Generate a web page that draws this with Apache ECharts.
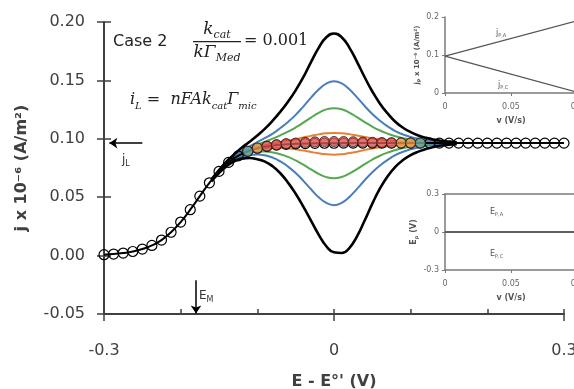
<!DOCTYPE html>
<html>
<head>
<meta charset="utf-8">
<script src="https://cdn.jsdelivr.net/npm/echarts@6/dist/echarts.min.js"></script>
<style>
  html, body { margin: 0; padding: 0; background: #fff; }
  #chart { width: 574px; height: 389px; }
</style>
</head>
<body>
<div id="chart"></div>
<script>
// sigmoid (steady state) curve, open circles
const sigE = [-0.3, -0.2875, -0.275, -0.2625, -0.25, -0.2375, -0.225, -0.2125, -0.2, -0.1875, -0.175, -0.1625, -0.15, -0.1375, -0.125, -0.1125, -0.1, -0.0875, -0.075, -0.0625, -0.05, -0.0375, -0.025, -0.0125, 0, 0.0125, 0.025, 0.0375, 0.05, 0.0625, 0.075, 0.0875, 0.1, 0.1125, 0.125, 0.1375, 0.15, 0.1625, 0.175, 0.1875, 0.2, 0.2125, 0.225, 0.2375, 0.25, 0.2625, 0.275, 0.2875, 0.3];
const sigJ = [0.0008, 0.0013, 0.0022, 0.0035, 0.0056, 0.0087, 0.0133, 0.0200, 0.0287, 0.0393, 0.0509, 0.0623, 0.0721, 0.0798, 0.0854, 0.0893, 0.0919, 0.0935, 0.0946, 0.0953, 0.0957, 0.0959, 0.0961, 0.0962, 0.0962, 0.0963, 0.0963, 0.0963, 0.0963, 0.0963, 0.0963, 0.0963, 0.0963, 0.0963, 0.0963, 0.0963, 0.0963, 0.0963, 0.0963, 0.0963, 0.0963, 0.0963, 0.0963, 0.0963, 0.0963, 0.0963, 0.0963, 0.0963, 0.0963];

// CV loops (forward = up, backward = down)
const loopE = [-0.16, -0.15, -0.14, -0.13, -0.12, -0.11, -0.1, -0.09, -0.08, -0.07, -0.06, -0.05, -0.04, -0.03, -0.02, -0.01, 0, 0.01, 0.02, 0.03, 0.04, 0.05, 0.06, 0.07, 0.08, 0.09, 0.1, 0.11, 0.12, 0.13, 0.14, 0.15, 0.16];
const blackUp = [0.0652, 0.0733, 0.0806, 0.0868, 0.0925, 0.0975, 0.1028, 0.1087, 0.1155, 0.1232, 0.1318, 0.1415, 0.1527, 0.1656, 0.1779, 0.1869, 0.1902, 0.1870, 0.1781, 0.1659, 0.1527, 0.1405, 0.1301, 0.1217, 0.1146, 0.1095, 0.1057, 0.1029, 0.1008, 0.0993, 0.0983, 0.0976, 0.0971];
const blackDown = [0.0635, 0.0707, 0.0766, 0.0808, 0.0830, 0.0835, 0.0825, 0.0805, 0.0765, 0.0705, 0.0625, 0.0530, 0.0420, 0.0300, 0.0180, 0.0080, 0.0028, 0.0022, 0.0065, 0.0165, 0.0300, 0.0445, 0.0575, 0.0680, 0.0760, 0.0818, 0.0860, 0.0890, 0.0912, 0.0930, 0.0942, 0.0950, 0.0954];
const blueUp = [0.0649, 0.0727, 0.0795, 0.0851, 0.0896, 0.0936, 0.0972, 0.1007, 0.1045, 0.1092, 0.1144, 0.1205, 0.1276, 0.1352, 0.1422, 0.1473, 0.1492, 0.1474, 0.1424, 0.1355, 0.1281, 0.1212, 0.1154, 0.1106, 0.1066, 0.1037, 0.1016, 0.1000, 0.0988, 0.0980, 0.0974, 0.0970, 0.0968];
const blueDown = [0.0639, 0.0713, 0.0773, 0.0817, 0.0846, 0.0862, 0.0866, 0.0859, 0.0839, 0.0806, 0.0762, 0.0707, 0.0640, 0.0568, 0.0500, 0.0451, 0.0432, 0.0452, 0.0502, 0.0571, 0.0645, 0.0714, 0.0772, 0.0820, 0.0860, 0.0889, 0.0910, 0.0926, 0.0938, 0.0946, 0.0952, 0.0956, 0.0958];
const greenUp = [0.0647, 0.0724, 0.0790, 0.0844, 0.0885, 0.0920, 0.0949, 0.0975, 0.1001, 0.1030, 0.1061, 0.1097, 0.1138, 0.1182, 0.1222, 0.1252, 0.1262, 0.1253, 0.1224, 0.1185, 0.1143, 0.1104, 0.1071, 0.1044, 0.1022, 0.1005, 0.0993, 0.0984, 0.0977, 0.0973, 0.0969, 0.0967, 0.0966];
const greenDown = [0.0641, 0.0716, 0.0778, 0.0824, 0.0857, 0.0878, 0.0889, 0.0891, 0.0883, 0.0868, 0.0845, 0.0815, 0.0778, 0.0738, 0.0700, 0.0672, 0.0662, 0.0673, 0.0702, 0.0741, 0.0783, 0.0822, 0.0855, 0.0882, 0.0904, 0.0921, 0.0933, 0.0942, 0.0949, 0.0953, 0.0957, 0.0959, 0.0960];
const orangeUp = [0.0645, 0.0721, 0.0786, 0.0837, 0.0875, 0.0905, 0.0928, 0.0945, 0.0959, 0.0973, 0.0985, 0.0997, 0.1011, 0.1025, 0.1038, 0.1047, 0.1050, 0.1048, 0.1040, 0.1028, 0.1016, 0.1004, 0.0995, 0.0987, 0.0980, 0.0975, 0.0972, 0.0969, 0.0967, 0.0966, 0.0965, 0.0964, 0.0964];
const orangeDown = [0.0643, 0.0719, 0.0782, 0.0831, 0.0866, 0.0892, 0.0909, 0.0919, 0.0923, 0.0923, 0.0918, 0.0910, 0.0899, 0.0887, 0.0876, 0.0867, 0.0864, 0.0868, 0.0878, 0.0890, 0.0904, 0.0917, 0.0928, 0.0937, 0.0944, 0.0949, 0.0953, 0.0956, 0.0958, 0.0960, 0.0961, 0.0962, 0.0962];

// filled markers of the fastest/slowest runs
const redDotE = [-0.0875, -0.075, -0.0625, -0.05, -0.0375, -0.025, -0.0125, 0, 0.0125, 0.025, 0.0375, 0.05, 0.0625, 0.075];
const redDotJ = [0.0937, 0.0950, 0.0959, 0.0964, 0.0970, 0.0974, 0.0977, 0.0977, 0.0977, 0.0975, 0.0972, 0.0970, 0.0968, 0.0966];
const orangeDotE = [-0.1, 0.0875, 0.1];
const orangeDotJ = [0.0921, 0.0965, 0.0964];
const tealDotE = [-0.1125, 0.1125];
const tealDotJ = [0.0894, 0.0964];

// insets
const insetV = [0, 0.1];
const jPA = [0.097, 0.19];
const jPC = [0.097, 0.002];
const EPA = [0, 0];
const EPC = [0, 0];

const pairs = (xs, ys) => xs.map((x, i) => [x, ys[i]]);

const chart = echarts.init(document.getElementById('chart'));
const FONT = 'DejaVu Sans';
const SERIF = 'DejaVu Serif';
const axisGray = '#404040';
const insetGray = '#7a7a7a';

const loopSeries = (data, color, width) => ({
  type: 'line',
  data,
  smooth: true,
  showSymbol: false,
  symbol: 'none',
  lineStyle: { color, width },
  z: 2,
  silent: true,
});

const dotSeries = (data, color) => ({
  type: 'scatter',
  data,
  symbol: 'circle',
  symbolSize: 10,
  itemStyle: { color, borderColor: '#3a2020', borderWidth: 1 },
  z: 5,
  silent: true,
});

const insetXAxis = (gridIndex) => ({
  type: 'value', gridIndex, min: 0, max: 0.1, interval: 0.05,
  position: 'bottom',
  axisLine: { onZero: false, lineStyle: { color: insetGray, width: 1.5 } },
  axisTick: { show: true, length: 3, lineStyle: { color: insetGray } },
  axisLabel: { color: '#666', fontSize: 8, fontFamily: FONT, margin: 10, formatter: (v) => (v === 0 ? '0' : String(v)) },
  splitLine: { show: false },
  name: 'v (V/s)', nameLocation: 'middle', nameGap: 24,
  nameTextStyle: { color: '#555', fontSize: 8, fontFamily: FONT, fontWeight: 'bold' },
});

const option = {
  animation: false,
  backgroundColor: '#fff',
  grid: [
    { left: 104, top: 22, width: 460, height: 292, outerBoundsMode: 'none', containLabel: false },
    { left: 445, top: 17, width: 132, height: 76, outerBoundsMode: 'none', containLabel: false },
    { left: 445, top: 194, width: 132, height: 76, outerBoundsMode: 'none', containLabel: false },
  ],
  xAxis: [
    {
      type: 'value', gridIndex: 0, min: -0.3, max: 0.3, interval: 0.3, position: 'bottom',
      axisLine: { onZero: false, lineStyle: { color: axisGray, width: 2 } },
      axisTick: { show: true, length: 7, lineStyle: { color: axisGray, width: 1.5 } },
      axisLabel: { color: axisGray, fontSize: 16, fontFamily: FONT, margin: 29, formatter: (v) => (Math.abs(v) < 1e-9 ? '0' : v.toFixed(1)) },
      splitLine: { show: false },
      name: "E - E\u00B0' (V)", nameLocation: 'middle', nameGap: 60,
      nameTextStyle: { color: axisGray, fontSize: 16, fontWeight: 'bold', fontFamily: FONT },
    },
    {
      type: 'value', gridIndex: 0, min: -0.3, max: 0.3, interval: 0.1, position: 'bottom',
      axisLine: { show: false, onZero: false },
      axisTick: { show: true, inside: true, length: 5, lineStyle: { color: axisGray, width: 1.5 } },
      axisLabel: { show: false },
      splitLine: { show: false },
    },
    insetXAxis(1),
    insetXAxis(2),
    {
      type: 'value', gridIndex: 2, min: 0, max: 0.1, position: 'top',
      axisLine: { onZero: false, lineStyle: { color: insetGray, width: 1.5 } },
      axisTick: { show: false }, axisLabel: { show: false }, splitLine: { show: false },
    },
  ],
  yAxis: [
    {
      type: 'value', gridIndex: 0, min: -0.05, max: 0.2, interval: 0.05, position: 'left',
      axisLine: { onZero: false, lineStyle: { color: axisGray, width: 2 } },
      axisTick: { show: true, length: 7, lineStyle: { color: axisGray, width: 1.5 } },
      axisLabel: { color: axisGray, fontSize: 16, fontFamily: FONT, margin: 19, formatter: (v) => v.toFixed(2) },
      splitLine: { show: false },
      name: 'j x 10\u207B\u2076 (A/m\u00B2)', nameLocation: 'middle', nameRotate: 90, nameGap: 74,
      nameTextStyle: { color: axisGray, fontSize: 16, fontWeight: 'bold', fontFamily: FONT },
    },
    {
      type: 'value', gridIndex: 0, min: -0.05, max: 0.2, interval: 0.05, position: 'left',
      axisLine: { show: false, onZero: false },
      axisTick: { show: true, inside: true, length: 7, lineStyle: { color: axisGray, width: 1.5 } },
      axisLabel: { show: false },
      splitLine: { show: false },
    },
    {
      type: 'value', gridIndex: 1, min: 0, max: 0.2, interval: 0.1, position: 'left',
      axisLine: { onZero: false, lineStyle: { color: insetGray, width: 1.5 } },
      axisTick: { show: true, length: 3, lineStyle: { color: insetGray } },
      axisLabel: { color: '#666', fontSize: 8, fontFamily: FONT, margin: 6, formatter: (v) => (v === 0 ? '0' : String(v)) },
      splitLine: { show: false },
      name: '{b|j}{s|P}{b| x 10\u207B\u2076 (A/m\u00B2)}', nameLocation: 'middle', nameRotate: 90, nameGap: 16,
      nameTextStyle: {
        rich: {
          b: { color: '#555', fontSize: 7, fontFamily: FONT, fontWeight: 'bold', lineHeight: 10 },
          s: { color: '#555', fontSize: 5, fontFamily: FONT, fontWeight: 'bold', lineHeight: 6, verticalAlign: 'bottom' },
        },
      },
    },
    {
      type: 'value', gridIndex: 2, min: -0.3, max: 0.3, interval: 0.3, position: 'left',
      axisLine: { onZero: false, lineStyle: { color: insetGray, width: 1.5 } },
      axisTick: { show: true, length: 3, lineStyle: { color: insetGray } },
      axisLabel: { color: '#666', fontSize: 8, fontFamily: FONT, margin: 6, formatter: (v) => (Math.abs(v) < 1e-9 ? '0' : String(v)) },
      splitLine: { show: false },
      name: '{b|E}{s|p}{b| (V)}', nameLocation: 'middle', nameRotate: 90, nameGap: 22,
      nameTextStyle: {
        rich: {
          b: { color: '#555', fontSize: 8, fontFamily: FONT, fontWeight: 'bold', lineHeight: 11 },
          s: { color: '#555', fontSize: 5, fontFamily: FONT, fontWeight: 'bold', lineHeight: 6, verticalAlign: 'bottom' },
        },
      },
    },
  ],
  series: [
    loopSeries(pairs(loopE, orangeUp), '#e8812f', 2),
    loopSeries(pairs(loopE, orangeDown), '#e8812f', 2),
    loopSeries(pairs(loopE, greenUp), '#55a84f', 2),
    loopSeries(pairs(loopE, greenDown), '#55a84f', 2),
    loopSeries(pairs(loopE, blueUp), '#4a7ebb', 2),
    loopSeries(pairs(loopE, blueDown), '#4a7ebb', 2),
    loopSeries(pairs(loopE, blackUp), '#000', 2.6),
    loopSeries(pairs(loopE, blackDown), '#000', 2.6),
    {
      type: 'line',
      data: pairs(sigE, sigJ),
      smooth: true,
      symbol: 'circle',
      symbolSize: 10,
      showAllSymbol: true,
      lineStyle: { color: '#000', width: 2 },
      itemStyle: { color: 'rgba(255,255,255,0)', borderColor: '#000', borderWidth: 1.2 },
      z: 4,
      silent: true,
      markLine: {
        silent: true,
        symbol: ['none', 'arrow'],
        symbolSize: 8,
        label: { show: false },
        lineStyle: { color: '#000', width: 1.5, type: 'solid' },
        data: [
          [{ coord: [-0.25, 0.0963] }, { coord: [-0.293, 0.0963] }],
          [{ coord: [-0.18, -0.021] }, { coord: [-0.18, -0.0495] }],
        ],
      },
    },
    dotSeries(pairs(tealDotE, tealDotJ), '#6fa7a0'),
    dotSeries(pairs(orangeDotE, orangeDotJ), '#e29a4c'),
    dotSeries(pairs(redDotE, redDotJ), '#d9534f'),
    {
      type: 'line', xAxisIndex: 2, yAxisIndex: 2, data: pairs(insetV, jPA),
      symbol: 'none', lineStyle: { color: '#555', width: 1.3 }, silent: true,
    },
    {
      type: 'line', xAxisIndex: 2, yAxisIndex: 2, data: pairs(insetV, jPC),
      symbol: 'none', lineStyle: { color: '#555', width: 1.3 }, silent: true,
    },
    {
      type: 'line', xAxisIndex: 3, yAxisIndex: 3, data: pairs(insetV, EPA),
      symbol: 'none', lineStyle: { color: '#555', width: 1.3 }, silent: true,
    },
    {
      type: 'line', xAxisIndex: 3, yAxisIndex: 3, data: pairs(insetV, EPC),
      symbol: 'none', lineStyle: { color: '#555', width: 1.3 }, silent: true,
    },
  ],
  graphic: [
    { type: 'text', x: 113, y: 42, style: { text: 'Case 2', font: '16px ' + FONT, fill: '#222', verticalAlign: 'middle' } },
    // k_cat / (k Γ_Med) = 0.001
    {
      type: 'text', x: 217, y: 30,
      style: {
        text: '{i|k}{s|cat}', align: 'center', verticalAlign: 'middle',
        rich: {
          i: { fontFamily: SERIF, fontStyle: 'italic', fontSize: 17, lineHeight: 22, fill: '#222' },
          s: { fontFamily: SERIF, fontStyle: 'italic', fontSize: 11, lineHeight: 12, verticalAlign: 'bottom', fill: '#222' },
        },
      },
    },
    { type: 'rect', shape: { x: 193, y: 41, width: 48, height: 1.2 }, style: { fill: '#222' } },
    {
      type: 'text', x: 217, y: 53,
      style: {
        text: '{i|k\u0393}{s|Med}', align: 'center', verticalAlign: 'middle',
        rich: {
          i: { fontFamily: SERIF, fontStyle: 'italic', fontSize: 17, lineHeight: 22, fill: '#222' },
          s: { fontFamily: SERIF, fontStyle: 'italic', fontSize: 11, lineHeight: 12, verticalAlign: 'bottom', fill: '#222' },
        },
      },
    },
    { type: 'text', x: 244, y: 41, style: { text: '= 0.001', font: '16px ' + SERIF, fill: '#222', verticalAlign: 'middle' } },
    // i_L = nFAk_cat Γ_mic
    {
      type: 'text', x: 130, y: 100,
      style: {
        text: '{i|i}{s|L}{r| =  }{i|nFAk}{s|cat}{i|\u0393}{s|mic}', verticalAlign: 'middle',
        rich: {
          i: { fontFamily: SERIF, fontStyle: 'italic', fontSize: 16, lineHeight: 22, fill: '#222' },
          r: { fontFamily: SERIF, fontSize: 16, lineHeight: 22, fill: '#222' },
          s: { fontFamily: SERIF, fontStyle: 'italic', fontSize: 10, lineHeight: 11, verticalAlign: 'bottom', fill: '#222' },
        },
      },
    },
    {
      type: 'text', x: 122, y: 160,
      style: {
        text: '{b|j}{s|L}', verticalAlign: 'middle',
        rich: {
          b: { fontFamily: FONT, fontSize: 12, lineHeight: 16, fill: '#333' },
          s: { fontFamily: FONT, fontSize: 8, lineHeight: 9, verticalAlign: 'bottom', fill: '#333' },
        },
      },
    },
    {
      type: 'text', x: 199, y: 296,
      style: {
        text: '{b|E}{s|M}', verticalAlign: 'middle',
        rich: {
          b: { fontFamily: FONT, fontSize: 12, lineHeight: 16, fill: '#333' },
          s: { fontFamily: FONT, fontSize: 8, lineHeight: 9, verticalAlign: 'bottom', fill: '#333' },
        },
      },
    },
    // inset labels
    {
      type: 'text', x: 496, y: 33,
      style: {
        text: '{b|j}{s|P,A}', verticalAlign: 'middle',
        rich: {
          b: { fontFamily: FONT, fontSize: 8, lineHeight: 11, fill: '#555' },
          s: { fontFamily: FONT, fontSize: 5, lineHeight: 6, verticalAlign: 'bottom', fill: '#555' },
        },
      },
    },
    {
      type: 'text', x: 498, y: 85,
      style: {
        text: '{b|j}{s|P,C}', verticalAlign: 'middle',
        rich: {
          b: { fontFamily: FONT, fontSize: 8, lineHeight: 11, fill: '#555' },
          s: { fontFamily: FONT, fontSize: 5, lineHeight: 6, verticalAlign: 'bottom', fill: '#555' },
        },
      },
    },
    {
      type: 'text', x: 490, y: 212,
      style: {
        text: '{b|E}{s|P,A}', verticalAlign: 'middle',
        rich: {
          b: { fontFamily: FONT, fontSize: 8, lineHeight: 11, fill: '#555' },
          s: { fontFamily: FONT, fontSize: 5, lineHeight: 6, verticalAlign: 'bottom', fill: '#555' },
        },
      },
    },
    {
      type: 'text', x: 490, y: 254,
      style: {
        text: '{b|E}{s|P,C}', verticalAlign: 'middle',
        rich: {
          b: { fontFamily: FONT, fontSize: 8, lineHeight: 11, fill: '#555' },
          s: { fontFamily: FONT, fontSize: 5, lineHeight: 6, verticalAlign: 'bottom', fill: '#555' },
        },
      },
    },
  ],
};

chart.setOption(option);
</script>
</body>
</html>
